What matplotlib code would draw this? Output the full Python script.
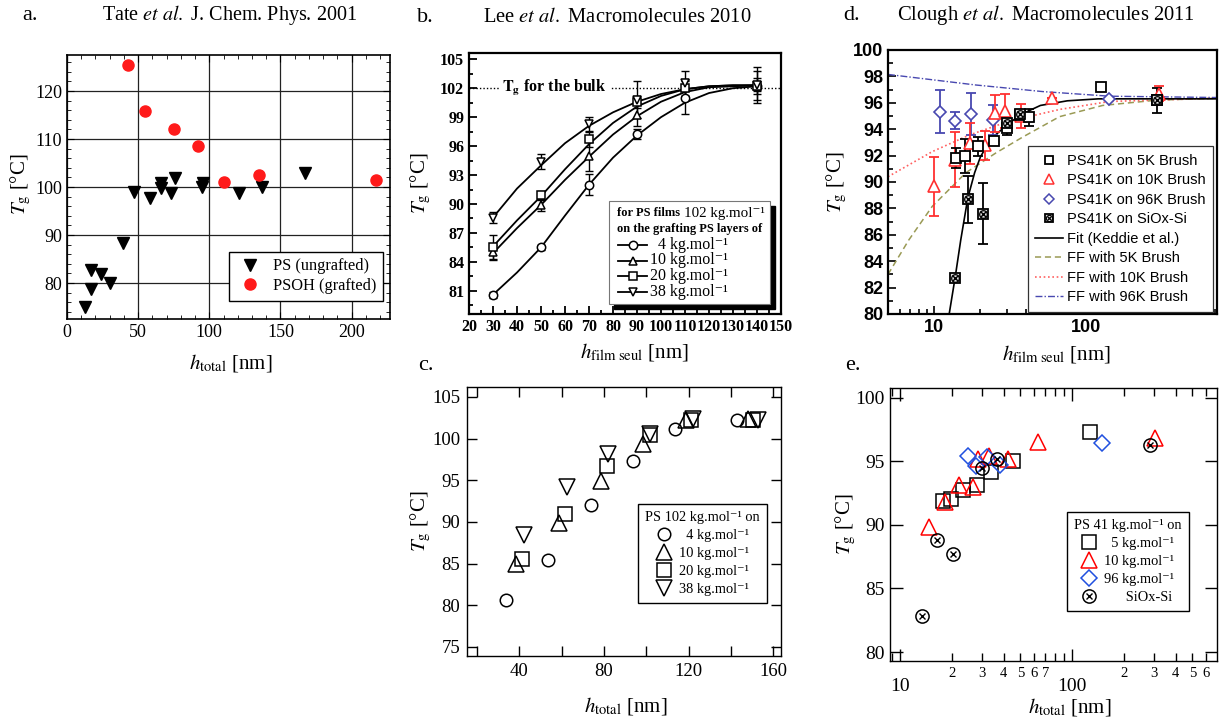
import matplotlib
matplotlib.use('Agg')
import matplotlib.pyplot as plt
from matplotlib.ticker import MultipleLocator, FixedLocator, NullFormatter, FuncFormatter, LogLocator
from matplotlib.lines import Line2D
from matplotlib.patches import Rectangle

plt.rcParams['font.family'] = ['Liberation Serif', 'DejaVu Serif']
plt.rcParams['mathtext.fontset'] = 'stix'

# ---------------- data ----------------
# panel a (Tate et al.)
a_ps_x = [12.9, 16.9, 16.9, 24.1, 30.0, 39.3, 46.8, 58.1, 66.0, 66.0, 73.3, 76.1, 95.6, 94.8, 121.0, 137.0, 167.0]
a_ps_y = [74.9, 82.8, 78.8, 81.9, 79.9, 88.3, 98.9, 97.8, 100.9, 99.7, 98.8, 101.9, 100.9, 99.9, 98.8, 99.9, 103.0]
a_psoh_x = [42.9, 54.6, 74.9, 92.0, 110.0, 135.0, 217.0]
a_psoh_y = [125.4, 115.9, 112.0, 108.5, 101.0, 102.6, 101.4]

# panel b (Lee et al.)
b_x = [30, 50, 70, 90, 110, 140]
b_4 = [80.6, 85.5, 92.0, 97.25, 101.0, 102.25]
b_10 = [85.0, 89.85, 94.95, 99.25, 102.1, 102.25]
b_20 = [85.5, 90.9, 96.7, 100.6, 102.0, 102.25]
b_38 = [88.6, 94.4, 98.3, 100.8, 102.5, 102.35]
b_4_err = [0.3, 0.3, 1.1, 0.5, 1.7, 0.5]
b_10_err = [0.7, 0.6, 1.5, 1.2, 0.9, 0.8]
b_20_err = [1.3, 0.4, 0.8, 0.6, 0.8, 1.5]
b_38_err = [0.6, 0.8, 0.7, 1.9, 1.3, 1.9]
b_fit_x = [30, 40, 50, 60, 70, 80, 90, 100, 110, 120, 130, 140]
b_fit_4 = [80.6, 82.9, 85.5, 88.8, 92.0, 94.8, 97.1, 99.0, 100.5, 101.5, 102.0, 102.2]
b_fit_10 = [84.9, 87.5, 89.9, 92.5, 94.9, 97.2, 99.1, 100.6, 101.6, 102.1, 102.2, 102.3]
b_fit_20 = [85.6, 88.3, 90.8, 93.6, 96.2, 98.4, 100.1, 101.2, 101.9, 102.2, 102.3, 102.3]
b_fit_38 = [88.6, 91.6, 94.0, 96.3, 98.1, 99.5, 100.6, 101.4, 101.9, 102.2, 102.3, 102.3]
b_bulk = 102

# panel c
c_4_x = [33.6, 53.5, 73.8, 93.9, 113.7, 143.0]
c_4_y = [80.6, 85.4, 92.0, 97.3, 101.1, 102.2]
c_10_x = [38.6, 58.6, 78.5, 98.3, 118.8, 148.2]
c_10_y = [84.9, 89.9, 94.9, 99.3, 102.2, 102.4]
c_20_x = [41.3, 61.4, 81.4, 101.8, 121.1, 150.2]
c_20_y = [85.5, 90.9, 96.7, 100.4, 102.2, 102.2]
c_38_x = [42.4, 62.5, 82.1, 101.8, 121.9, 152.9]
c_38_y = [88.4, 94.2, 98.2, 100.6, 102.4, 102.2]

# panel d (Clough et al.)
d_5_x = [14.0, 16.1, 19.5, 24.8, 30.3, 36.7, 41.9, 124.0, 289.0]
d_5_y = [91.8, 91.98, 92.69, 93.14, 94.08, 95.1, 94.9, 97.2, 96.2]
d_5_err = [0.75, 1.3, 0.72, 0.3, 0.55, 0.3, 0.65, 0.2, 0.0]
d_10_x = [9.96, 13.8, 17.2, 21.8, 25.0, 29.1, 37.5, 59.4, 300.0]
d_10_y = [89.66, 91.7, 92.94, 92.8, 95.2, 95.4, 95.0, 96.4, 96.7]
d_10_err = [2.27, 2.1, 1.55, 1.1, 1.4, 1.3, 0.9, 0.0, 0.6]
d_96_x = [10.9, 13.8, 17.5, 24.5, 141.0]
d_96_y = [95.33, 94.63, 95.16, 94.7, 96.3]
d_96_err = [1.62, 0.65, 1.58, 1.15, 0.0]
d_si_x = [13.8, 16.7, 21.0, 30.4, 37.0, 289.0]
d_si_y = [82.75, 88.7, 87.6, 94.45, 95.15, 96.2]
d_si_err = [0.3, 1.77, 2.33, 0.3, 0.3, 0.95]
d_fit_x = [12.6, 13.8, 15.0, 16.7, 18.5, 20.2, 22.4, 25.0, 30.0, 37.0, 50.0, 75.0, 120.0, 250.0, 720.0]
d_fit_y = [80.0, 82.8, 85.6, 88.8, 90.7, 91.9, 92.8, 93.5, 94.3, 95.1, 95.8, 96.15, 96.3, 96.3, 96.3]
d_ff5_x = [5.0, 6.84, 9.75, 16.2, 25.5, 38.2, 66.7, 128.0, 289.0, 720.0]
d_ff5_y = [83.0, 85.6, 88.15, 90.7, 92.2, 93.4, 94.95, 95.8, 96.2, 96.35]
d_ff10_x = [5.0, 9.75, 17.0, 31.0, 67.0, 142.0, 720.0]
d_ff10_y = [90.4, 92.3, 93.55, 94.6, 95.5, 96.1, 96.35]
d_ff96_x = [5.0, 18.8, 51.7, 142.0, 720.0]
d_ff96_y = [98.15, 97.35, 96.85, 96.5, 96.4]

# panel e
e_5_x = [17.85, 19.77, 23.1, 27.9, 33.7, 45.5, 126.8]
e_5_y = [91.87, 92.06, 92.77, 93.16, 94.15, 94.99, 97.3]
e_10_x = [14.7, 18.2, 22.0, 26.4, 28.5, 32.9, 42.2, 63.5, 302.0]
e_10_y = [89.83, 91.8, 93.1, 92.97, 95.2, 95.38, 95.2, 96.5, 96.8]
e_96_x = [24.9, 27.8, 32.1, 38.0, 150.0]
e_96_y = [95.38, 94.6, 95.33, 94.73, 96.4]
e_si_x = [13.4, 16.3, 20.2, 30.0, 36.7, 282.0]
e_si_y = [82.85, 88.84, 87.68, 94.5, 95.2, 96.25]

# ---------------- figure ----------------
W, H = 1223, 720
fig = plt.figure(figsize=(W / 100, H / 100), dpi=100)


def px_axes(l, t, r, b):
    return fig.add_axes([l / W, 1 - b / H, (r - l) / W, (b - t) / H])


SANS = ['Liberation Sans', 'DejaVu Sans']
TG = r'$T_{\mathrm{g}}$ [°C]'
KG = 'kg.mol⁻¹'

# ---------- panel a ----------
ax = px_axes(67, 55, 390, 319)
ax.set_xlim(0, 227)
ax.set_ylim(72.5, 127.5)
ax.xaxis.set_major_locator(MultipleLocator(50))
ax.xaxis.set_minor_locator(MultipleLocator(10))
ax.yaxis.set_minor_locator(MultipleLocator(2))
ax.set_yticks([80, 90, 100, 110, 120])
ax.grid(True, which='major', color='#222222', lw=0.9)
ax.set_axisbelow(True)
ax.tick_params(which='both', direction='in', top=True, right=True, labelsize=13)
ax.tick_params(which='major', length=5)
ax.tick_params(which='minor', length=3)
for s in ax.spines.values():
    s.set_linewidth(1.2)
l1, = ax.plot(a_ps_x, a_ps_y, ls='none', marker='v', ms=8.5, color='black')
l2, = ax.plot(a_psoh_x, a_psoh_y, ls='none', marker='o', ms=8, color='#ff1a1a', mec='#ff1a1a')
leg = ax.legend([l1, l2], ['PS (ungrafted)', 'PSOH (grafted)'], loc='upper left',
                bbox_to_anchor=(0.5, 0.254), fancybox=False, edgecolor='black', framealpha=1,
                fontsize=11.8, handletextpad=0.5, borderpad=0.4, labelspacing=0.22, handlelength=1.8,
                borderaxespad=0)
leg.get_frame().set_linewidth(1.0)
ax.set_ylabel(TG, fontsize=15)
ax.yaxis.set_label_coords(-0.105, 0.51)
ax.set_xlabel(r'$h_{\mathrm{total}}$ [nm]', fontsize=15)
ax.xaxis.set_label_coords(0.508, -0.125)

# ---------- panel b ----------
ax = px_axes(469, 53, 781, 314)
ax.set_xlim(20, 150)
ax.set_ylim(78.6, 105.65)
ax.xaxis.set_major_locator(MultipleLocator(10))
ax.xaxis.set_minor_locator(MultipleLocator(5))
ax.yaxis.set_major_locator(FixedLocator([81, 84, 87, 90, 93, 96, 99, 102, 105]))
ax.yaxis.set_minor_locator(MultipleLocator(1.5))
ax.tick_params(which='both', direction='in', labelsize=11.5, width=1.3)
ax.tick_params(which='major', length=6)
ax.tick_params(which='minor', length=3)
for lab in ax.get_xticklabels() + ax.get_yticklabels():
    lab.set_fontweight('bold')
for s in ax.spines.values():
    s.set_linewidth(1.6)
ax.plot([20, 150], [b_bulk, b_bulk], ls=(0, (1, 1.5)), color='black', lw=1.0, zorder=1)
ax.text(55.5, b_bulk, r'$\mathbf{T_g}$ for the bulk', ha='center', va='center', fontsize=11.5,
        fontweight='bold', bbox=dict(facecolor='white', edgecolor='none', pad=2.5), zorder=2)
series_b = [(b_4, b_4_err, b_fit_4, 'o'), (b_10, b_10_err, b_fit_10, '^'),
            (b_20, b_20_err, b_fit_20, 's'), (b_38, b_38_err, b_fit_38, 'v')]
for ys, es, fit, m in series_b:
    ax.plot(b_fit_x, fit, color='black', lw=1.3, zorder=3)
    ax.errorbar(b_x, ys, yerr=es, ls='none', ecolor='black', elinewidth=1.0, capsize=3, capthick=1.0, zorder=3)
    ax.plot(b_x, ys, ls='none', marker=m, ms=6, mfc='white', mec='black', mew=1.1, zorder=4)
ax.set_ylabel(TG, fontsize=15)
ax.yaxis.set_label_coords(-0.115, 0.5)
ax.set_xlabel(r'$h_{\mathrm{film\ seul}}$ [nm]', fontsize=15)
ax.xaxis.set_label_coords(0.53, -0.105)


def bx(p):
    return (p - 469) / 312


def by(p):
    return 1 - (p - 53) / 261


ax.add_patch(Rectangle((bx(614), by(309)), bx(775) - bx(614), by(206) - by(309), transform=ax.transAxes,
                       facecolor='black', edgecolor='black', zorder=5, clip_on=False))
ax.add_patch(Rectangle((bx(609), by(304)), bx(770) - bx(609), by(201) - by(304), transform=ax.transAxes,
                       facecolor='white', edgecolor='#777777', lw=0.8, zorder=6, clip_on=False))
ax.text(bx(617), by(213), 'for PS films', transform=ax.transAxes, fontsize=8.9,
        fontweight='bold', va='center', ha='left', zorder=7)
ax.text(bx(684), by(213), '102 ' + KG, transform=ax.transAxes, fontsize=10.8,
        va='center', ha='left', zorder=7)
ax.text(bx(617), by(229), 'on the grafting PS layers of', transform=ax.transAxes, fontsize=8.9,
        fontweight='bold', va='center', ha='left', zorder=7)
leg_labels_b = ['  4 ' + KG, '10 ' + KG, '20 ' + KG, '38 ' + KG]
for i, (m, lab) in enumerate(zip(['o', '^', 's', 'v'], leg_labels_b)):
    yy = by(245 + i * 15.5)
    ax.plot([bx(618), bx(647)], [yy, yy], transform=ax.transAxes, color='black', lw=1.3, zorder=7, clip_on=False)
    ax.plot([bx(632.5)], [yy], transform=ax.transAxes, marker=m, ms=6, mfc='white', mec='black', mew=1.1,
            zorder=8, clip_on=False)
    ax.text(bx(650), yy, lab, transform=ax.transAxes, fontsize=11.5, va='center', ha='left', zorder=7)

# ---------- panel c ----------
ax = px_axes(467, 387, 781, 656)
ax.set_xlim(15.3, 163.6)
ax.set_ylim(73.9, 106.2)
ax.xaxis.set_major_locator(FixedLocator([40, 80, 120, 160]))
ax.xaxis.set_minor_locator(FixedLocator([20, 60, 100, 140]))
ax.yaxis.set_major_locator(MultipleLocator(5))
ax.tick_params(which='both', direction='in', top=True, right=True, labelsize=13.5, width=1.0)
ax.tick_params(which='major', length=7, pad=5)
ax.tick_params(which='minor', length=7)
for s in ax.spines.values():
    s.set_linewidth(1.0)
hc = []
for xs, ys, m, ms in [(c_4_x, c_4_y, 'o', 9), (c_10_x, c_10_y, '^', 11), (c_20_x, c_20_y, 's', 9.5),
                      (c_38_x, c_38_y, 'v', 11)]:
    h, = ax.plot(xs, ys, ls='none', marker=m, ms=ms, mfc='none', mec='black', mew=1.1)
    hc.append(h)
leg = ax.legend(hc, ['  4 ' + KG, '10 ' + KG, '20 ' + KG, '38 ' + KG],
                title='PS 102 ' + KG + ' on', title_fontsize=10.4, fontsize=10.4, loc='upper left',
                bbox_to_anchor=(0.544, 0.565), fancybox=False, edgecolor='black', framealpha=1,
                handlelength=1.1, handletextpad=0.5, labelspacing=0.33, borderpad=0.5, borderaxespad=0)
leg.get_frame().set_linewidth(1.0)
ax.set_ylabel(TG, fontsize=15)
ax.yaxis.set_label_coords(-0.108, 0.5)
ax.set_xlabel(r'$h_{\mathrm{total}}$ [nm]', fontsize=15)
ax.xaxis.set_label_coords(0.506, -0.145)

# ---------- panel d ----------
ax = px_axes(888, 50, 1217, 314)
ax.set_xscale('log')
ax.set_xlim(5, 720)
ax.set_ylim(80, 100)
ax.xaxis.set_major_locator(FixedLocator([10, 100]))
ax.xaxis.set_minor_locator(LogLocator(base=10, subs=(2, 3, 4, 5, 6, 7, 8, 9)))
ax.xaxis.set_minor_formatter(NullFormatter())
ax.xaxis.set_major_formatter(FuncFormatter(lambda v, p: f'{v:g}'))
ax.yaxis.set_major_locator(MultipleLocator(2))
ax.yaxis.set_minor_locator(MultipleLocator(1))
ax.tick_params(which='both', direction='in', labelsize=13, width=1.2)
ax.tick_params(which='major', length=6)
ax.tick_params(which='minor', length=3.5)
for lab in ax.get_xticklabels() + ax.get_yticklabels():
    lab.set_fontweight('bold')
    lab.set_family(SANS)
for s in ax.spines.values():
    s.set_linewidth(1.6)
OLIVE = '#9a9a55'
RED_D = '#ff3030'
BLUE_D = '#4848b0'
hf, = ax.plot(d_fit_x, d_fit_y, color='black', lw=1.2, zorder=3)
h5f, = ax.plot(d_ff5_x, d_ff5_y, color=OLIVE, lw=1.1, ls=(0, (4, 2.5)), zorder=2)
h10f, = ax.plot(d_ff10_x, d_ff10_y, color='#ff6060', lw=1.2, ls=(0, (1, 1.6)), zorder=2)
h96f, = ax.plot(d_ff96_x, d_ff96_y, color=BLUE_D, lw=1.0, ls=(0, (5, 1.5, 1, 1.5)), zorder=2)
ax.errorbar(d_96_x, d_96_y, yerr=d_96_err, ls='none', ecolor=BLUE_D, elinewidth=1.3, capsize=3.5, capthick=1.3, zorder=4)
ax.errorbar(d_10_x, d_10_y, yerr=d_10_err, ls='none', ecolor=RED_D, elinewidth=1.3, capsize=3.5, capthick=1.3, zorder=4)
ax.errorbar(d_5_x, d_5_y, yerr=d_5_err, ls='none', ecolor='black', elinewidth=1.3, capsize=3.5, capthick=1.3, zorder=4)
ax.errorbar(d_si_x, d_si_y, yerr=d_si_err, ls='none', ecolor='black', elinewidth=1.3, capsize=3.5, capthick=1.3, zorder=4)
ax.plot(d_96_x, d_96_y, ls='none', marker='D', ms=6, mfc='white', mec=BLUE_D, mew=1.2, zorder=5)
ax.plot(d_10_x, d_10_y, ls='none', marker='^', ms=8, mfc='white', mec=RED_D, mew=1.2, zorder=5)
ax.plot(d_5_x, d_5_y, ls='none', marker='s', ms=7.5, mfc='white', mec='black', mew=1.3, zorder=6)
ax.plot(d_si_x, d_si_y, ls='none', marker='s', ms=7.5, mfc='#dddddd', mec='black', mew=1.3, zorder=7)
ax.plot(d_si_x, d_si_y, ls='none', marker='o', ms=5.5, mfc='none', mec='black', mew=0.9, zorder=8)
ax.plot(d_si_x, d_si_y, ls='none', marker='x', ms=4, mec='black', mew=1.0, zorder=9)
lh5 = Line2D([], [], ls='none', marker='s', ms=6, mfc='white', mec='black', mew=1.3)
lh10 = Line2D([], [], ls='none', marker='^', ms=7, mfc='white', mec=RED_D, mew=1.1)
lh96 = Line2D([], [], ls='none', marker='D', ms=5.5, mfc='white', mec=BLUE_D, mew=1.1)
lhs1 = Line2D([], [], ls='none', marker='s', ms=6, mfc='#dddddd', mec='black', mew=1.3)
lhs2 = Line2D([], [], ls='none', marker='o', ms=4.5, mfc='none', mec='black', mew=0.8)
lhs3 = Line2D([], [], ls='none', marker='x', ms=3.5, mec='black', mew=0.9)
leg = ax.legend([lh5, lh10, lh96, (lhs1, lhs2, lhs3), hf, h5f, h10f, h96f],
                ['PS41K on 5K Brush', 'PS41K on 10K Brush', 'PS41K on 96K Brush', 'PS41K on SiOx-Si',
                 'Fit (Keddie et al.)', 'FF with 5K Brush', 'FF with 10K Brush', 'FF with 96K Brush'],
                loc='upper left', bbox_to_anchor=(0.426, 0.635), fancybox=False, edgecolor='#333333',
                framealpha=1, prop={'family': SANS, 'size': 10.5}, handlelength=1.9, handletextpad=0.25,
                labelspacing=0.38, borderpad=0.5, borderaxespad=0)
leg.get_frame().set_linewidth(0.9)
ax.set_ylabel(TG, fontsize=15)
ax.yaxis.set_label_coords(-0.12, 0.5)
ax.set_xlabel(r'$h_{\mathrm{film\ seul}}$ [nm]', fontsize=15)
ax.xaxis.set_label_coords(0.513, -0.11)

# ---------- panel e ----------
ax = px_axes(890, 388, 1217, 661)
ax.set_xscale('log')
ax.set_xlim(8.75, 694)
ax.set_ylim(79.3, 100.76)
ax.xaxis.set_major_locator(FixedLocator([10, 100]))
ax.xaxis.set_major_formatter(FuncFormatter(lambda v, p: f'{v:g}'))
ax.xaxis.set_minor_locator(LogLocator(base=10, subs=(2, 3, 4, 5, 6, 7, 8, 9)))


def minor_fmt(v, p):
    lead = round(v / 10 ** int(f'{v:e}'.split('e')[1]))
    if 20 <= v <= 75 or 200 <= v <= 650:
        return f'{lead:d}'
    return ''


ax.xaxis.set_minor_formatter(FuncFormatter(minor_fmt))
ax.yaxis.set_major_locator(MultipleLocator(5))
ax.tick_params(which='both', direction='in', top=True, right=True, width=1.0)
ax.tick_params(which='major', length=9, labelsize=14, pad=12)
ax.tick_params(axis='y', which='major', pad=4)
ax.tick_params(which='minor', length=6, labelsize=10.5, pad=4)
for s in ax.spines.values():
    s.set_linewidth(1.0)
BLUE_E = '#2050e0'
he5, = ax.plot(e_5_x, e_5_y, ls='none', marker='s', ms=10, mfc='none', mec='black', mew=1.1, zorder=4)
he10, = ax.plot(e_10_x, e_10_y, ls='none', marker='^', ms=11, mfc='none', mec='red', mew=1.1, zorder=4)
he96, = ax.plot(e_96_x, e_96_y, ls='none', marker='D', ms=8, mfc='none', mec=BLUE_E, mew=1.1, zorder=4)
hes1, = ax.plot(e_si_x, e_si_y, ls='none', marker='o', ms=9.5, mfc='none', mec='black', mew=1.1, zorder=5)
hes2, = ax.plot(e_si_x, e_si_y, ls='none', marker='x', ms=4, mec='black', mew=1.0, zorder=5)
leg = ax.legend([he5, he10, he96, (hes1, hes2)],
                ['  5 ' + KG, '10 ' + KG, '96 ' + KG, '      SiOx-Si'],
                title='PS 41 ' + KG + ' on', title_fontsize=10.4, fontsize=10.4, loc='upper left',
                bbox_to_anchor=(0.541, 0.546), fancybox=False, edgecolor='black', framealpha=1,
                handlelength=1.1, handletextpad=0.5, labelspacing=0.33, borderpad=0.5, borderaxespad=0)
leg.get_frame().set_linewidth(1.0)
ax.set_ylabel(TG, fontsize=15)
ax.yaxis.set_label_coords(-0.098, 0.5)
ax.set_xlabel(r'$h_{\mathrm{total}}$ [nm]', fontsize=15)
ax.xaxis.set_label_coords(0.55, -0.13)

# ---------- titles and panel letters ----------
fig.text(230 / W, 1 - 15 / H, r'Tate $\mathit{et\ al.}$ J. Chem. Phys. 2001', ha='center', va='center', fontsize=14.5)
fig.text(617 / W, 1 - 17 / H, r'Lee $\mathit{et\ al.}$ Macromolecules 2010', ha='center', va='center', fontsize=14.8)
fig.text(1046 / W, 1 - 15 / H, r'Clough $\mathit{et\ al.}$ Macromolecules 2011', ha='center', va='center', fontsize=14.8)
for lab, x, y in [('a.', 22, 15), ('b.', 417, 17), ('c.', 418, 365), ('d.', 843, 15), ('e.', 845, 365)]:
    fig.text(x / W, 1 - y / H, lab, ha='left', va='center', fontsize=16)

fig.savefig('out.png', dpi=100)
